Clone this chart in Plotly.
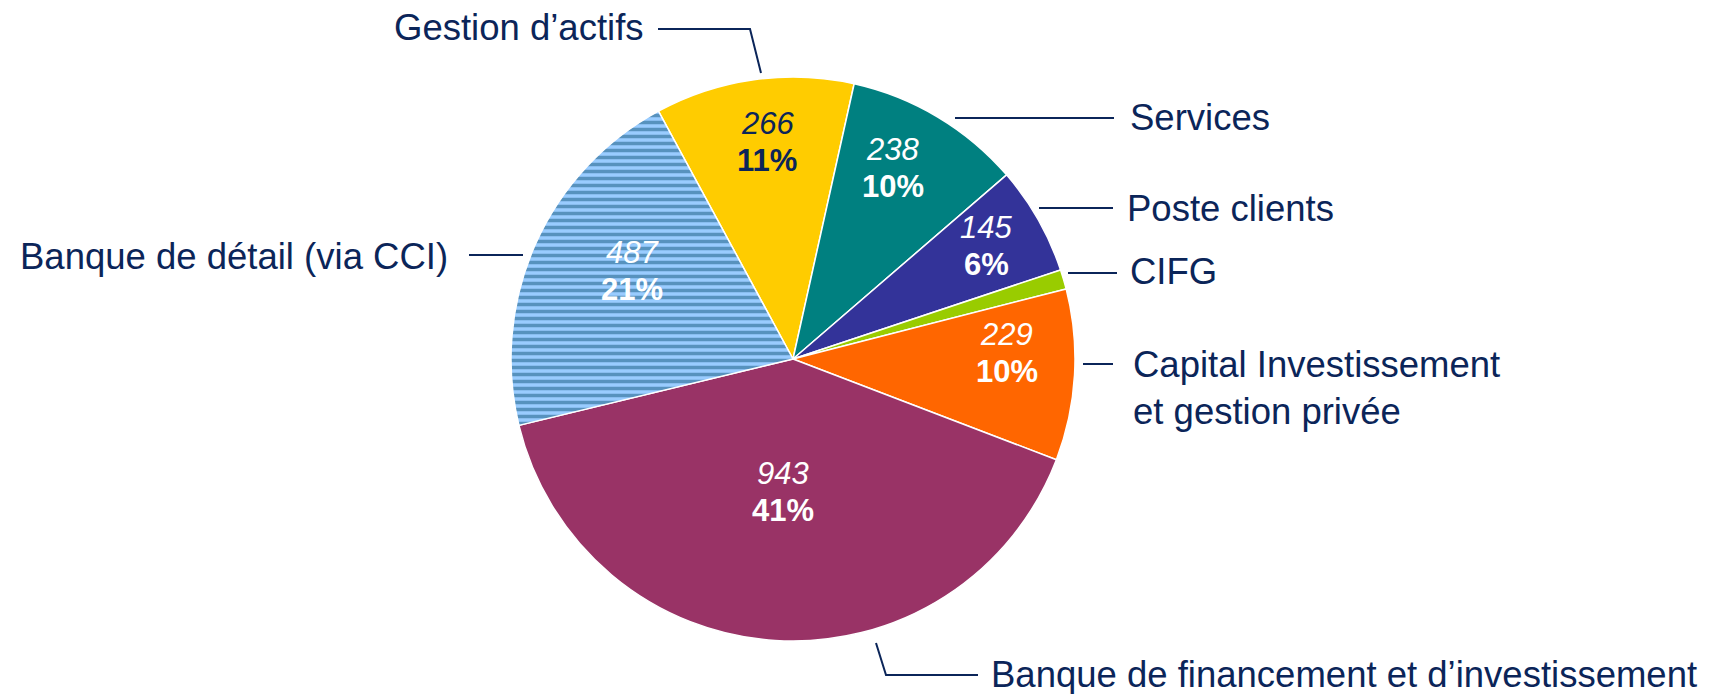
import math
import plotly.graph_objects as go

# ---- data ----
segments = ["Gestion d’actifs", "Services", "Poste clients", "CIFG",
            "Capital Investissement<br>et gestion privée",
            "Banque de financement et d’investissement",
            "Banque de détail (via CCI)"]
values = [266, 238, 145, 26, 229, 943, 487]
pct_labels = ["11%", "10%", "6%", "", "10%", "41%", "21%"]
colors = ["#FFCC00", "#008080", "#333399", "#99CC00", "#FF6600", "#993366", "#99CCFF"]
inside_text_colors = ["#0B2559", "white", "white", "white", "white", "white", "white"]

# ---- layout geometry (pixels of the 1717x694 page) ----
FW, FH = 1717, 694
CX, CY, R = 793, 359, 282
ROTATION = 331.5  # start angle of first slice, clockwise from 12 o'clock
inside_r = [0.775, 0.765, 0.793, 0, 0.759, 0.473, 0.651]
inside_da = [1.2, -3.3, -0.7, 0, -4.9, 0.7, 4.8]
NAVY = "#0B2559"
FONT = "Liberation Sans, Arial, sans-serif"


def px(x):
    return x / FW


def py(y):
    return (FH - y) / FH


fig = go.Figure()
fig.add_trace(go.Pie(
    labels=segments, values=values, sort=False, direction="clockwise",
    rotation=ROTATION, textinfo="none", hoverinfo="label+value+percent",
    showlegend=False,
    marker=dict(colors=colors, line=dict(color="white", width=1.5),
                pattern=dict(shape=["", "", "", "", "", "", "-"],
                             fgcolor="#5792BE", fgopacity=1, size=7, solidity=0.5,
                             fillmode="overlay")),
    domain=dict(x=[px(CX - R), px(CX + R)], y=[py(CY + R), py(CY - R)]),
))

annotations = []
shapes = []
total = sum(values)
cum = 0
for i, v in enumerate(values):
    mid = ROTATION + (cum + v / 2) / total * 360 + inside_da[i]
    cum += v
    if not pct_labels[i]:
        continue
    r = inside_r[i] * R
    x = CX + r * math.sin(math.radians(mid))
    y = CY - r * math.cos(math.radians(mid))
    annotations.append(dict(x=px(x), y=py(y), xref="paper", yref="paper",
                            xanchor="center", yanchor="middle",
                            text=f"<i>{v}</i>", showarrow=False, yshift=18.5,
                            font=dict(family=FONT, size=31, color=inside_text_colors[i])))
    annotations.append(dict(x=px(x), y=py(y), xref="paper", yref="paper",
                            xanchor="center", yanchor="middle",
                            text=f"<b>{pct_labels[i]}</b>", showarrow=False, yshift=-18.5,
                            font=dict(family=FONT, size=31, color=inside_text_colors[i])))

# outside labels: (text index, x, y, xanchor) in page pixels
outside = [
    (0, 646, 27, "right"),
    (1, 1128, 118, "left"),
    (2, 1125, 208, "left"),
    (3, 1128, 271, "left"),
    (4, 1131, 388, "left"),
    (5, 989, 674, "left"),
    (6, 450, 256, "right"),
]
for idx, x, y, xa in outside:
    annotations.append(dict(x=px(x), y=py(y), xref="paper", yref="paper",
                            text=segments[idx], showarrow=False, xanchor=xa,
                            yanchor="middle", align="left",
                            font=dict(family=FONT, size=36.5, color=NAVY)))

leaders = [
    [(658, 29), (750, 29), (761, 73)],
    [(955, 118), (1114, 118)],
    [(1039, 208), (1113, 208)],
    [(1068, 273), (1117, 273)],
    [(1083, 364), (1113, 364)],
    [(876, 643), (886, 675), (978, 675)],
    [(469, 255), (523, 255)],
]
for pts in leaders:
    path = "M " + " L ".join(f"{px(x)},{py(y)}" for x, y in pts)
    shapes.append(dict(type="path", path=path, xref="paper", yref="paper",
                       line=dict(color=NAVY, width=2)))

fig.update_layout(
    width=FW, height=FH, margin=dict(l=0, r=0, t=0, b=0),
    paper_bgcolor="white", plot_bgcolor="white",
    annotations=annotations, shapes=shapes,
)
fig.write_html("out.html", config={"displayModeBar": False},
               post_script="document.body.style.margin='0';document.body.style.overflow='hidden';")
